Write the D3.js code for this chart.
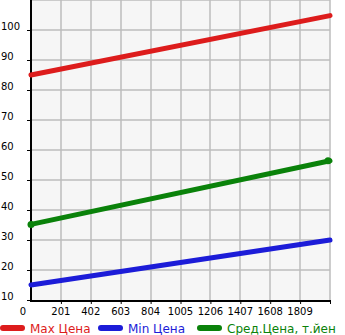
<!DOCTYPE html>
<html><head><meta charset="utf-8">
<script src="https://cdn.jsdelivr.net/npm/d3@7"></script>
<style>body{margin:0;background:#fff}svg{display:block}</style>
</head><body>
<svg id="c" width="345" height="335"></svg>
<script>
const xTicks = [0, 201, 402, 603, 804, 1005, 1206, 1407, 1608, 1809];
const yTicks = [10, 20, 30, 40, 50, 60, 70, 80, 90, 100];
const xDomain = [0, 2010];
const yDomain = [10, 110];
const xData = [0, 2010];
const maxPrice = [85, 104.8];
const minPrice = [15, 30];
const avgPrice = [35.2, 56.4];
const seriesNames = ["Max Цена", "Min Цена", "Сред.Цена, т.йен"];
const colors = ["#dd1c1c", "#1c1cd8", "#0a820a"];

const svg = d3.select("#c");
const L = 31, R = 330, T = 0, B = 300;
const x = d3.scaleLinear().domain(xDomain).range([L, R]);
const y = d3.scaleLinear().domain(yDomain).range([B, T]);
const font = "'DejaVu Sans', sans-serif";

svg.append("rect").attr("x", L).attr("y", T).attr("width", R - L).attr("height", B - T).attr("fill", "#f6f6f6");

// grid
svg.append("g").selectAll("line").data(xTicks.slice(1).concat([2010])).join("line")
  .attr("x1", d => Math.round(x(d)) - 0.5 + 0.5).attr("x2", d => Math.round(x(d)))
  .attr("y1", T).attr("y2", B).attr("stroke", "#bdbdbd").attr("stroke-width", 1.5);
svg.append("g").selectAll("line").data(yTicks.slice(1).concat([110])).join("line")
  .attr("x1", L).attr("x2", R).attr("y1", d => Math.round(y(d))).attr("y2", d => Math.round(y(d)))
  .attr("stroke", "#bdbdbd").attr("stroke-width", 1.5);

// axes
const yAxis = d3.axisLeft(y).tickValues(yTicks).tickSize(4).tickFormat("");
const gy = svg.append("g").attr("transform", `translate(${L},0)`).call(yAxis);
gy.select(".domain").remove();
gy.selectAll("line").attr("stroke", "#000").attr("stroke-width", 1);
svg.append("g").selectAll("text").data(yTicks).join("text")
  .attr("x", 1).attr("y", d => y(d)).text(d => d)
  .attr("font-family", font).attr("font-size", 10).attr("fill", "#000");

const xAxis = d3.axisBottom(x).tickValues(xTicks.slice(1).concat([2010])).tickSize(4).tickFormat("");
const gx = svg.append("g").attr("transform", `translate(0,${B})`).call(xAxis);
gx.select(".domain").remove();
gx.selectAll("line").attr("stroke", "#000").attr("stroke-width", 1);
svg.append("g").selectAll("text").data(xTicks).join("text")
  .attr("x", (d, i) => i === 0 ? x(d) - 5 : x(d)).attr("y", 315)
  .attr("text-anchor", (d, i) => i === 0 ? "end" : "middle").text(d => d)
  .attr("font-family", font).attr("font-size", 10).attr("fill", "#000");

svg.append("line").attr("x1", L).attr("x2", L).attr("y1", T).attr("y2", B + 1).attr("stroke", "#000").attr("stroke-width", 2);
svg.append("line").attr("x1", L - 1).attr("x2", R).attr("y1", B + 1).attr("y2", B + 1).attr("stroke", "#000").attr("stroke-width", 2);

// lines
const line = d3.line().x((d, i) => x(xData[i])).y(d => y(d));
[maxPrice, minPrice, avgPrice].forEach((s, k) => {
  svg.append("path").datum(s).attr("d", line).attr("fill", "none")
    .attr("stroke", colors[k]).attr("stroke-width", 5).attr("stroke-linecap", "round");
});
svg.append("g").selectAll("circle").data(avgPrice).join("circle")
  .attr("cx", (d, i) => x(xData[i]) - (i ? 2 : 0)).attr("cy", d => y(d)).attr("r", 3.5).attr("fill", colors[2]);

// legend
const legX = [3, 101, 200];
const lg = svg.append("g");
seriesNames.forEach((n, k) => {
  lg.append("line").attr("x1", legX[k]).attr("x2", legX[k] + 19).attr("y1", 328).attr("y2", 328)
    .attr("stroke", colors[k]).attr("stroke-width", 6).attr("stroke-linecap", "round");
  lg.append("text").attr("x", legX[k] + 27).attr("y", 333).text(n)
    .attr("font-family", font).attr("font-size", 12).attr("fill", colors[k]);
});
</script>
</body></html>
